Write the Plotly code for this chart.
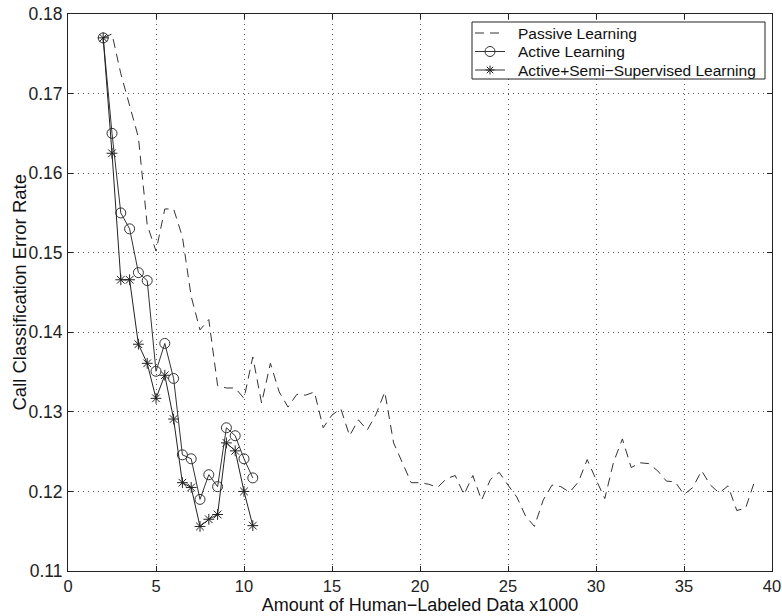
import plotly.graph_objects as go

# ---- data ----
passive_x = [2.0, 2.5, 3.0, 3.5, 4.0, 4.5, 5.0, 5.5, 6.0, 6.5, 7.0, 7.5, 8.0, 8.5, 9.0, 9.5,
             10.0, 10.5, 11.0, 11.5, 12.0, 12.5, 13.0, 13.5, 14.0, 14.5, 15.0, 15.5, 16.0, 16.5,
             17.0, 17.5, 18.0, 18.5, 19.0, 19.5, 20.0, 20.5, 21.0, 21.5, 22.0, 22.5, 23.0, 23.5,
             24.0, 24.5, 25.0, 25.5, 26.0, 26.5, 27.0, 27.5, 28.0, 28.5, 29.0, 29.5, 30.0, 30.5,
             31.0, 31.5, 32.0, 32.5, 33.0, 33.5, 34.0, 34.5, 35.0, 35.5, 36.0, 36.5, 37.0, 37.5,
             38.0, 38.5, 39.0]
passive_y = [0.1770, 0.1775, 0.1725, 0.1685, 0.1645, 0.1535, 0.1502, 0.1555, 0.1555, 0.1520,
             0.1445, 0.1403, 0.1416, 0.1333, 0.1330, 0.1330, 0.1317, 0.1369, 0.1311, 0.1361,
             0.1325, 0.1306, 0.1322, 0.1321, 0.1325, 0.1280, 0.1296, 0.1304, 0.1270, 0.1290,
             0.1277, 0.1297, 0.1325, 0.1261, 0.1237, 0.1211, 0.1211, 0.1209, 0.1205, 0.1216,
             0.1220, 0.1196, 0.1220, 0.1189, 0.1215, 0.1224, 0.1208, 0.1193, 0.1169, 0.1156,
             0.1189, 0.1208, 0.1206, 0.1199, 0.1212, 0.1240, 0.1215, 0.1191, 0.1237, 0.1266,
             0.1230, 0.1236, 0.1235, 0.1226, 0.1213, 0.1212, 0.1196, 0.1205, 0.1226, 0.1208,
             0.1198, 0.1207, 0.1176, 0.1179, 0.1212]

active_x = [2.0, 2.5, 3.0, 3.5, 4.0, 4.5, 5.0, 5.5, 6.0, 6.5, 7.0, 7.5, 8.0, 8.5, 9.0, 9.5, 10.0, 10.5]
active_y = [0.1770, 0.1650, 0.1550, 0.1530, 0.1475, 0.1465, 0.1351, 0.1386, 0.1342, 0.1246,
            0.1241, 0.1190, 0.1221, 0.1206, 0.1280, 0.1270, 0.1241, 0.1217]

semi_x = [2.0, 2.5, 3.0, 3.5, 4.0, 4.5, 5.0, 5.5, 6.0, 6.5, 7.0, 7.5, 8.0, 8.5, 9.0, 9.5, 10.0, 10.5]
semi_y = [0.1770, 0.1625, 0.1466, 0.1466, 0.1385, 0.1361, 0.1317, 0.1346, 0.1291, 0.1211,
          0.1205, 0.1156, 0.1165, 0.1171, 0.1261, 0.1251, 0.1200, 0.1157]

x_ticks = [0, 5, 10, 15, 20, 25, 30, 35, 40]
y_ticks = [0.11, 0.12, 0.13, 0.14, 0.15, 0.16, 0.17, 0.18]
y_tick_labels = ["0.11", "0.12", "0.13", "0.14", "0.15", "0.16", "0.17", "0.18"]

series_names = ["Passive Learning", "Active Learning", "Active+Semi\u2212Supervised Learning"]
x_title = "Amount of Human\u2212Labeled Data x1000"
y_title = "Call Classification Error Rate"

FONT = "Liberation Sans, Arial, Helvetica, sans-serif"
INK = "#222222"
PASSIVE_DASH = "9px,6px"

# ---- figure geometry (pixels) ----
W, H = 782, 616
L, R, T, B = 68, 10, 14, 45
PW, PH = W - L - R, H - T - B


def px(xpix):
    return (xpix - L) / PW


def py(ypix):
    return (H - B - ypix) / PH


fig = go.Figure()
fig.add_trace(go.Scatter(
    x=passive_x, y=passive_y, mode="lines", name=series_names[0],
    line=dict(color="#333333", width=1, dash=PASSIVE_DASH),
))
fig.add_trace(go.Scatter(
    x=active_x, y=active_y, mode="lines+markers", name=series_names[1],
    line=dict(color="#333333", width=1),
    marker=dict(symbol="circle-open", size=10, color="#333333", line=dict(width=1)),
))
fig.add_trace(go.Scatter(
    x=semi_x, y=semi_y, mode="lines+markers", name=series_names[2],
    line=dict(color=INK, width=1),
    marker=dict(symbol="asterisk-open", size=9, color=INK, line=dict(width=1)),
))

axis_common = dict(
    showline=True, linecolor=INK, linewidth=1, mirror="ticks",
    ticks="inside", ticklen=5, tickcolor=INK, tickwidth=1,
    showgrid=True, gridcolor="#555555", gridwidth=1, griddash="1px,4px",
    zeroline=False,
)

fig.update_xaxes(
    range=[0, 40], tickvals=x_ticks, ticktext=[str(v) for v in x_ticks],
    tickfont=dict(family=FONT, size=16.5, color=INK),
    title=dict(text=x_title, font=dict(family=FONT, size=18, color="#111111"), standoff=3),
    ticklabelstandoff=0,
    **axis_common,
)
fig.update_yaxes(
    range=[0.11, 0.18], tickvals=y_ticks, ticktext=y_tick_labels,
    tickfont=dict(family=FONT, size=17.5, color=INK),
    ticklabelstandoff=1,
    **axis_common,
)

# ---- legend box drawn in the upper right, like the MATLAB legend ----
box_l, box_r, box_t, box_b = 472, 765, 22, 79
row_y = [33, 51.5, 70]
samp_l, samp_r, samp_c = 475, 505, 490
text_x = 516

shapes = [dict(type="rect", xref="paper", yref="paper",
               x0=px(box_l), x1=px(box_r), y0=py(box_b), y1=py(box_t),
               line=dict(color=INK, width=1), fillcolor="white", layer="above")]
shapes.append(dict(type="line", xref="paper", yref="paper",
                   x0=px(samp_l), x1=px(samp_r), y0=py(row_y[0]), y1=py(row_y[0]),
                   line=dict(color="#333333", width=1, dash=PASSIVE_DASH)))
for ry in row_y[1:]:
    shapes.append(dict(type="line", xref="paper", yref="paper",
                       x0=px(samp_l), x1=px(samp_r), y0=py(ry), y1=py(ry),
                       line=dict(color="#333333", width=1)))
shapes.append(dict(type="circle", xref="paper", yref="paper",
                   xsizemode="pixel", ysizemode="pixel",
                   xanchor=px(samp_c), yanchor=py(row_y[1]),
                   x0=-5, x1=5, y0=-5, y1=5,
                   line=dict(color="#333333", width=1)))
shapes.append(dict(type="path", xref="paper", yref="paper",
                   xsizemode="pixel", ysizemode="pixel",
                   xanchor=px(samp_c), yanchor=py(row_y[2]),
                   path="M-4.5,0 L4.5,0 M0,-4.5 L0,4.5 M-3.2,-3.2 L3.2,3.2 M-3.2,3.2 L3.2,-3.2",
                   line=dict(color=INK, width=1)))

annotations = []
for name, ry in zip(series_names, row_y):
    annotations.append(dict(
        text=name, xref="paper", yref="paper", x=px(text_x), y=py(ry),
        xanchor="left", yanchor="middle", showarrow=False,
        font=dict(family=FONT, size=15.5, color="#111111"),
    ))

# y-axis title placed close to the tick labels, as in the reference
annotations.append(dict(
    text=y_title, xref="paper", yref="paper", x=px(19), y=0.5,
    xanchor="center", yanchor="middle", textangle=-90, showarrow=False,
    font=dict(family=FONT, size=18.5, color="#111111"),
))

fig.update_layout(
    width=W, height=H,
    margin=dict(l=L, r=R, t=T, b=B, autoexpand=False),
    paper_bgcolor="white", plot_bgcolor="white",
    font=dict(family=FONT, color="#111111"),
    showlegend=False,
    shapes=shapes,
    annotations=annotations,
)

fig.write_html("out.html")
